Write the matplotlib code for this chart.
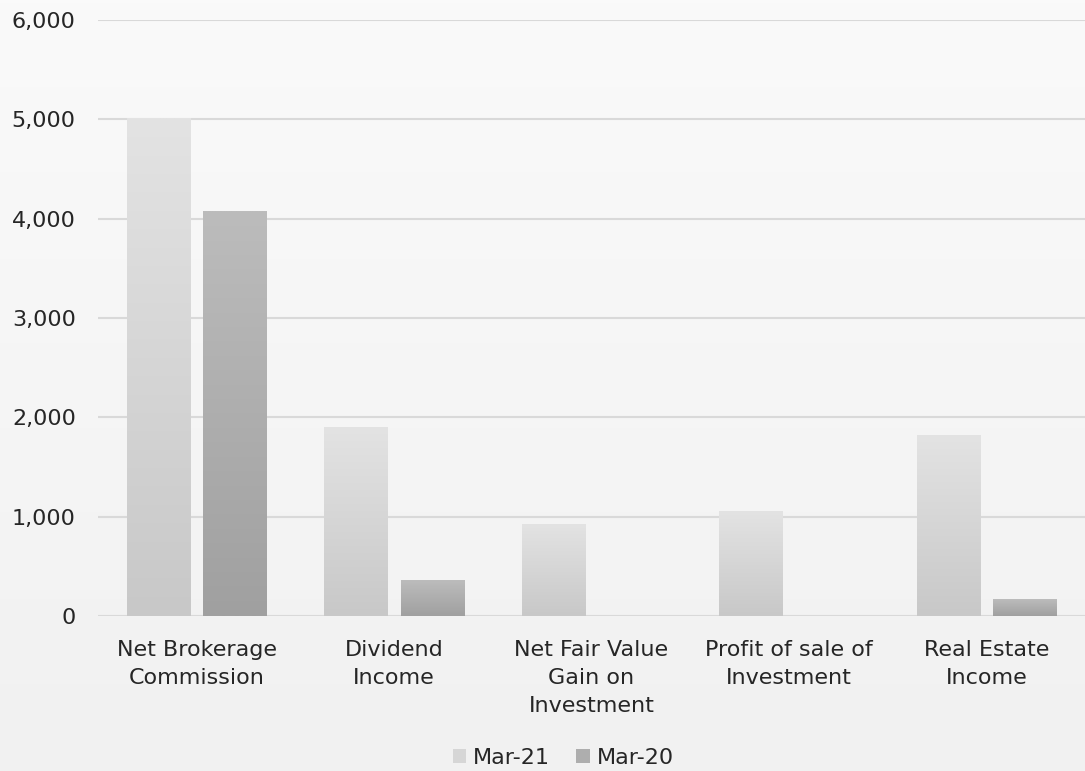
import matplotlib
matplotlib.use("Agg")
import matplotlib.pyplot as plt
import numpy as np
from matplotlib.patches import Patch
from matplotlib.colors import LinearSegmentedColormap

categories = ["Net Brokerage\nCommission", "Dividend\nIncome", "Net Fair Value\nGain on\nInvestment",
              "Profit of sale of\nInvestment", "Real Estate\nIncome"]
mar21 = [5010, 1893, 926, 1057, 1813]
mar20 = [4068, 362, 0, 0, 171]
series_names = ["Mar-21", "Mar-20"]
yticks = [0, 1000, 2000, 3000, 4000, 5000, 6000]

plt.rcParams['font.family'] = ['DejaVu Sans']
FS = 16
TC = "#262626"

fig = plt.figure(figsize=(10.85, 7.71), dpi=100)
# background gradient
bg = fig.add_axes([0, 0, 1, 1], zorder=-10)
grad = np.linspace(0, 1, 256).reshape(-1, 1)
bgcmap = LinearSegmentedColormap.from_list("bg", ["#fafafa", "#f1f1f1"])
bg.imshow(grad, aspect="auto", cmap=bgcmap, extent=[0, 1, 0, 1], origin="upper")
bg.axis("off")

ax = fig.add_axes([0.0903, 0.201, 0.9097, 0.773])
ax.patch.set_alpha(0)
x = np.arange(len(categories))
w = 0.32
gap = 0.066
b1 = ax.bar(x - (w + gap) / 2, mar21, w, color="none", edgecolor="none", zorder=3)
b2 = ax.bar(x + (w + gap) / 2, mar20, w, color="none", edgecolor="none", zorder=3)

cm21 = LinearSegmentedColormap.from_list("c21", ["#e3e3e3", "#c8c8c8"])
cm20 = LinearSegmentedColormap.from_list("c20", ["#bcbcbc", "#a0a0a0"])
for bars, cm in ((b1, cm21), (b2, cm20)):
    for r in bars:
        h = r.get_height()
        if h <= 0:
            continue
        x0 = r.get_x()
        ax.imshow(grad, aspect="auto", cmap=cm, origin="upper",
                  extent=[x0, x0 + r.get_width(), 0, h], zorder=3, interpolation="bilinear")

ax.set_xlim(-0.5, len(categories) - 0.5)
ax.set_ylim(0, 6000)
ax.set_yticks(yticks)
ax.set_yticklabels([f"{v:,}" for v in yticks])
ax.set_xticks(x)
ax.set_xticklabels(categories, linespacing=1.5)
ax.yaxis.grid(True, color="#d9d9d9", linewidth=1.5, zorder=0)
ax.set_axisbelow(True)
for s in ax.spines.values():
    s.set_visible(False)
ax.tick_params(axis="y", length=0, pad=16, labelsize=FS, labelcolor=TC)
ax.tick_params(axis="x", length=0, pad=17, labelsize=FS, labelcolor=TC)

handles = [Patch(facecolor="#d6d6d6", edgecolor="none"), Patch(facecolor="#aeaeae", edgecolor="none")]
fig.legend(handles, series_names, loc="center", bbox_to_anchor=(0.519, 0.017), ncol=2, frameon=False,
           fontsize=FS, handlelength=0.6, handleheight=0.6, handletextpad=0.3, columnspacing=1.2,
           labelcolor=TC)

fig.savefig("out.png", dpi=100)
